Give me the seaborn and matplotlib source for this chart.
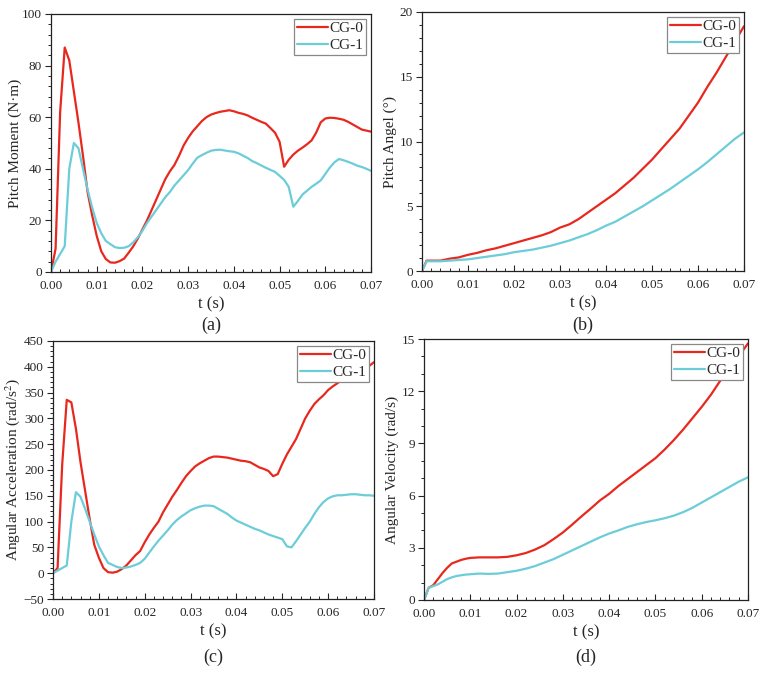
import numpy as np
import pandas as pd
import matplotlib
matplotlib.use('Agg')
import matplotlib.pyplot as plt
import seaborn as sns
from matplotlib.ticker import AutoMinorLocator, MultipleLocator

sns.set_theme(style='ticks')
plt.rcParams['font.family'] = ['Liberation Serif', 'DejaVu Serif']
plt.rcParams['mathtext.fontset'] = 'stix'

# ---- data ----
t_fine = np.round(np.arange(0, 0.0705, 0.001), 3)

moment_cg0 = [0, 9, 62, 87, 82, 70, 58, 45, 31, 22,
              14, 8, 5, 3.7, 3.6, 4.2, 5.2, 7.5, 10, 13,
              16.5, 20, 24, 28, 32, 36, 39, 41.5, 45, 49,
              52, 54.5, 56.5, 58.5, 60, 61, 61.6, 62.1, 62.4, 62.7,
              62.3, 61.7, 61.3, 60.7, 59.8, 59, 58.2, 57.5, 55.8, 54,
              50.5, 40.8, 43.5, 45.5, 47, 48.2, 49.5, 51, 54, 58,
              59.5, 59.8, 59.7, 59.4, 59, 58.2, 57.2, 56.2, 55.2, 54.8,
              54.4]
moment_cg1 = [0, 4, 7, 10, 40, 50, 48, 40, 32, 25,
              19, 15, 12, 10.8, 9.6, 9.3, 9.4, 10, 11.5, 13.5,
              16, 19, 21.5, 24, 26.5, 29, 31, 33.5, 35.5, 37.5,
              39.5, 42, 44.3, 45.3, 46.2, 47, 47.3, 47.4, 47.1, 46.8,
              46.6, 46, 45.1, 44.2, 43, 42.2, 41.3, 40.4, 39.6, 38.8,
              37.3, 35.7, 33, 25.3, 27.5, 30, 31.5, 33, 34.2, 35.5,
              38, 40.5, 42.5, 43.8, 43.3, 42.7, 42, 41.2, 40.7, 40,
              39.2]

t_angle = [0, 0.001, 0.002] + list(np.round(np.arange(0.004, 0.0705, 0.002), 3))
angle_cg0 = [0, 0.8, 0.8, 0.8, 0.95, 1.05, 1.25, 1.4, 1.6, 1.75,
             1.95, 2.15, 2.35, 2.55, 2.75, 3.0, 3.35, 3.6, 4.0, 4.5,
             5.0, 5.5, 6.0, 6.6, 7.2, 7.9, 8.6, 9.4, 10.2, 11.0,
             12.0, 13.0, 14.2, 15.3, 16.5, 17.7, 18.9]
angle_cg1 = [0, 0.75, 0.75, 0.75, 0.8, 0.85, 0.9, 1.0, 1.1, 1.2,
             1.3, 1.45, 1.55, 1.65, 1.8, 1.95, 2.15, 2.35, 2.6, 2.85,
             3.15, 3.5, 3.8, 4.2, 4.6, 5.0, 5.45, 5.9, 6.35, 6.85,
             7.35, 7.85, 8.4, 9.0, 9.6, 10.2, 10.7]

accel_cg0 = [0, 10, 210, 336, 331, 280, 215, 160, 105, 55,
             30, 10, 2, 1, 3, 8, 15, 25, 35, 43,
             60, 75, 88, 100, 118, 133, 148, 161, 175, 188,
             198, 207, 213, 218, 223, 226, 226, 225, 224, 222,
             220, 218, 217, 215, 210, 205, 202, 198, 188, 192,
             212, 230, 245, 260, 280, 300, 315, 328, 337, 345,
             355, 362, 368, 375, 381, 385, 389, 392, 395, 402,
             409]
accel_cg1 = [0, 5, 10, 15, 100, 157, 148, 125, 100, 75,
             52, 35, 20, 16, 12, 10, 11, 13, 16, 20,
             28, 40, 52, 63, 73, 83, 94, 103, 110, 116,
             122, 126, 129, 131, 131, 130, 125, 120, 115, 108,
             102, 98, 94, 90, 86, 83, 79, 75, 72, 69,
             66, 52, 50, 62, 75, 88, 100, 115, 128, 138,
             145, 149, 151, 151, 152, 153, 153, 152, 151, 151,
             150]

t_vel = list(np.round(np.arange(0, 0.0105, 0.001), 3)) + list(np.round(np.arange(0.012, 0.0705, 0.002), 3))
vel_cg0 = [0, 0.7, 0.85, 1.2, 1.55, 1.85, 2.1, 2.2, 2.3, 2.37, 2.42,
           2.45, 2.45, 2.45, 2.48, 2.57, 2.7, 2.9, 3.15, 3.5, 3.88,
           4.33, 4.8, 5.25, 5.72, 6.1, 6.55, 6.95, 7.35, 7.75, 8.15,
           8.65, 9.2, 9.8, 10.45, 11.1, 11.8, 12.6, 13.3, 14.0, 14.75]
vel_cg1 = [0, 0.7, 0.8, 0.9, 1.05, 1.2, 1.3, 1.38, 1.42, 1.46, 1.48,
           1.52, 1.5, 1.52, 1.6, 1.68, 1.8, 1.95, 2.15, 2.35, 2.6,
           2.85, 3.1, 3.35, 3.6, 3.82, 4.0, 4.2, 4.35, 4.48, 4.58,
           4.7, 4.85, 5.05, 5.3, 5.6, 5.9, 6.2, 6.5, 6.8, 7.05]

red = '#e8281e'
cyan = '#6ccdd8'

W, H = 762, 673
fig = plt.figure(figsize=(W / 100, H / 100), dpi=100)


def px_axes(left, right, top, bottom):
    return fig.add_axes([left / W, 1 - bottom / H, (right - left) / W, (bottom - top) / H])


panels = [
    # box px, t, cg0, cg1, ylim, ystep, ylabel, label x px, tag
    ((51, 371, 14, 272), t_fine, moment_cg0, moment_cg1, (0, 100), 20, 'Pitch Moment (N·m)', 15, '(a)'),
    ((422, 744, 12, 271), t_angle, angle_cg0, angle_cg1, (0, 20), 5, 'Pitch Angel (°)', 390, '(b)'),
    ((53, 374, 341, 599), t_fine, accel_cg0, accel_cg1, (-50, 450), 50, 'Angular Acceleration (rad/s$^2$)', 13, '(c)'),
    ((424, 748, 339, 600), t_vel, vel_cg0, vel_cg1, (0, 15), 3, 'Angular Velocity (rad/s)', 392, '(d)'),
]

for box, t, y0, y1, ylim, ystep, ylabel, lx, tag in panels:
    ax = px_axes(*box)
    sns.lineplot(x=t, y=y0, ax=ax, color=red, lw=1.6, label='CG-0')
    sns.lineplot(x=t, y=y1, ax=ax, color=cyan, lw=1.6, label='CG-1')
    ax.set_xlim(0, 0.07)
    ax.set_ylim(*ylim)
    ax.xaxis.set_major_locator(MultipleLocator(0.01))
    ax.xaxis.set_minor_locator(AutoMinorLocator(5))
    ax.yaxis.set_major_locator(MultipleLocator(ystep))
    ax.yaxis.set_minor_locator(AutoMinorLocator(5 if ystep != 3 else 3))
    ax.xaxis.set_major_formatter(matplotlib.ticker.FormatStrFormatter('%.2f'))
    ax.tick_params(axis='x', which='both', direction='in', labelsize=9.5, pad=6)
    ax.tick_params(axis='y', which='both', direction='out', labelsize=9.5, pad=2.5)
    ax.tick_params(which='major', length=4, width=0.8)
    ax.tick_params(which='minor', length=2.5, width=0.7)
    for s in ax.spines.values():
        s.set_linewidth(0.9)
        s.set_color('#222222')
    ax.set_xlabel('t (s)', fontsize=12, labelpad=3)
    ax.set_ylabel(ylabel, fontsize=11, va='center')
    ax.yaxis.set_label_coords((lx - box[0]) / (box[1] - box[0]), 0.5)
    leg = ax.legend(loc='upper right', fontsize=11, frameon=True, fancybox=False,
                    edgecolor='#888888', framealpha=1, borderpad=0.2, labelspacing=0.2,
                    handlelength=2.0, handletextpad=0.1, borderaxespad=0.3)
    leg.get_frame().set_linewidth(0.9)
    cx = (box[0] + box[1]) / 2
    ty = 325 if box[3] < 300 else 657
    fig.text(cx / W, 1 - ty / H, tag, ha='center', va='center', fontsize=13)

fig.savefig('out.png', dpi=100)
